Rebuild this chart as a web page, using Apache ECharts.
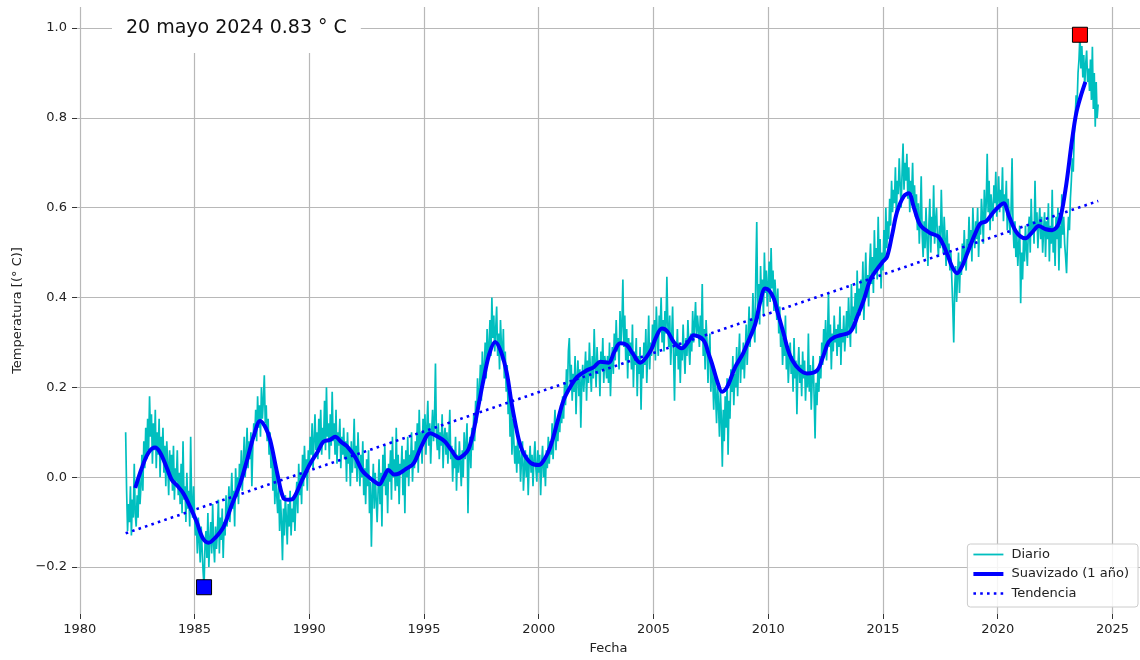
<!DOCTYPE html>
<html><head><meta charset="utf-8">
<script src="https://cdn.jsdelivr.net/npm/echarts@6/dist/echarts.min.js"></script>
<style>html,body{margin:0;padding:0;background:#fff}#chart{width:1140px;height:660px}</style>
</head><body><div id="chart"></div>
<script>
// ---- data ----
const dailyStartYear = 1982;
const dailyStepsPerYear = 24; // semi-monthly readings
const dailyTemps = [
  0.10,-0.03,-0.12,-0.06,-0.10,-0.02,-0.13,-0.05,-0.09,0.03,-0.08,-0.11,-0.04,-0.09,0.01,-0.06,-0.02,0.05,-0.03,0.08,0.02,0.11,0.04,0.13,
  0.06,0.18,0.09,0.14,0.03,0.12,0.06,0.15,0.02,0.10,0.05,0.13,0.00,0.09,0.04,0.11,0.01,0.07,-0.02,0.08,0.03,-0.04,0.06,0.00,
  0.05,-0.03,0.07,-0.05,0.02,-0.01,0.06,-0.04,0.01,-0.06,0.03,-0.08,0.08,-0.05,-0.02,-0.10,0.01,-0.07,-0.03,-0.11,0.09,-0.06,-0.09,-0.02,
  -0.08,-0.13,-0.10,-0.17,-0.09,-0.14,-0.19,-0.11,-0.16,-0.21,-0.245,-0.15,-0.12,-0.18,-0.08,-0.20,-0.14,-0.10,-0.17,-0.06,-0.15,-0.19,-0.11,-0.16,
  -0.12,-0.05,-0.17,-0.09,-0.14,-0.07,-0.18,-0.10,-0.13,-0.04,-0.11,-0.08,-0.02,-0.10,-0.05,0.01,-0.07,-0.03,-0.11,0.02,-0.04,0.00,-0.06,0.03,
  -0.01,0.06,-0.03,0.03,0.09,0.00,0.05,0.11,0.02,0.08,0.04,0.10,-0.02,0.07,0.12,0.09,0.15,0.08,0.18,0.11,0.16,0.09,0.20,0.13,
  0.17,0.227,0.12,0.16,0.08,0.13,0.05,0.10,0.02,0.07,-0.03,0.04,-0.06,0.01,-0.04,-0.08,-0.02,-0.12,-0.05,-0.10,-0.185,-0.07,-0.13,-0.04,
  -0.09,-0.15,-0.06,-0.11,-0.03,-0.13,-0.07,-0.10,-0.04,-0.12,-0.05,-0.01,-0.08,0.03,-0.04,0.01,-0.06,0.05,-0.02,0.07,0.00,0.04,-0.03,0.06,
  0.03,0.09,0.05,0.12,0.02,0.08,0.14,0.06,0.10,0.04,0.13,0.07,0.15,0.05,0.11,0.08,0.17,0.06,0.20,0.09,0.12,0.04,0.14,0.07,
  0.19,0.08,0.12,0.05,0.15,0.03,0.10,0.07,0.13,0.02,0.09,0.05,0.11,0.04,0.08,-0.01,0.10,0.03,0.06,-0.02,0.08,0.01,0.05,0.13,
  0.02,0.07,-0.01,0.10,0.03,-0.02,0.05,0.00,0.08,-0.04,0.02,-0.06,0.04,-0.02,0.06,-0.08,-0.01,-0.155,-0.04,0.03,-0.07,0.01,-0.05,-0.10,
  -0.03,0.04,-0.06,0.01,-0.11,0.05,-0.02,0.07,-0.04,0.02,-0.08,0.03,-0.01,0.06,-0.05,0.09,0.00,0.04,-0.03,0.11,-0.02,0.05,-0.06,0.03,
  0.01,0.07,-0.04,0.04,-0.08,0.06,0.00,0.09,-0.02,0.05,0.03,0.10,-0.01,0.06,0.02,0.08,0.04,0.12,0.01,0.15,0.06,0.10,0.03,0.13,
  0.08,0.14,0.05,0.11,0.17,0.07,0.12,0.03,0.10,0.15,0.08,0.13,0.253,0.09,0.06,0.12,0.04,0.10,0.07,0.14,0.02,0.09,0.11,0.05,
  0.10,0.03,0.08,0.15,0.04,0.07,-0.01,0.06,0.02,0.09,-0.03,0.05,0.01,0.08,0.03,-0.02,0.06,0.00,0.10,0.04,0.07,0.12,-0.08,0.05,
  0.09,0.02,0.11,0.06,0.14,0.08,0.17,0.12,0.22,0.15,0.19,0.25,0.17,0.28,0.21,0.24,0.30,0.22,0.33,0.26,0.29,0.35,0.27,0.40,
  0.31,0.36,0.28,0.33,0.38,0.27,0.32,0.24,0.35,0.29,0.26,0.33,0.22,0.28,0.19,0.25,0.14,0.21,0.09,0.16,0.05,0.13,0.08,0.03,
  0.07,0.01,0.09,0.03,0.06,-0.01,0.04,0.08,-0.03,0.02,0.06,0.00,0.05,-0.04,0.03,0.07,0.01,0.05,-0.02,0.04,0.08,0.02,-0.01,0.06,
  0.01,0.05,-0.04,0.03,0.07,0.00,0.04,-0.02,0.06,0.02,0.09,0.03,0.08,0.05,0.12,0.04,0.10,0.15,0.06,0.11,0.08,0.14,0.10,0.16,
  0.12,0.18,0.13,0.21,0.16,0.24,0.19,0.28,0.31,0.20,0.25,0.17,0.23,0.19,0.27,0.14,0.22,0.26,0.18,0.24,0.11,0.21,0.25,0.19,
  0.23,0.28,0.17,0.26,0.21,0.30,0.24,0.19,0.27,0.22,0.33,0.25,0.20,0.29,0.23,0.26,0.18,0.28,0.24,0.31,0.21,0.27,0.25,0.22,
  0.27,0.21,0.30,0.18,0.25,0.29,0.23,0.32,0.26,0.35,0.28,0.31,0.24,0.37,0.30,0.34,0.44,0.29,0.36,0.26,0.33,0.22,0.31,0.27,
  0.30,0.24,0.34,0.20,0.28,0.25,0.31,0.18,0.27,0.23,0.29,0.15,0.26,0.22,0.30,0.25,0.33,0.21,0.28,0.36,0.24,0.30,0.27,0.34,
  0.29,0.35,0.26,0.38,0.31,0.27,0.36,0.33,0.40,0.30,0.35,0.28,0.37,0.32,0.446,0.34,0.29,0.36,0.25,0.31,0.38,0.27,0.17,0.30,
  0.27,0.33,0.24,0.30,0.21,0.29,0.26,0.34,0.28,0.23,0.31,0.27,0.35,0.29,0.25,0.32,0.28,0.37,0.30,0.34,0.39,0.31,0.36,0.33,
  0.29,0.36,0.31,0.43,0.27,0.33,0.24,0.35,0.30,0.21,0.28,0.32,0.19,0.26,0.22,0.15,0.24,0.18,0.12,0.21,0.16,0.09,0.19,0.13,
  0.023,0.15,0.08,0.18,0.11,0.22,0.05,0.17,0.13,0.24,0.19,0.27,0.16,0.23,0.20,0.29,0.18,0.26,0.32,0.21,0.27,0.24,0.30,0.22,
  0.28,0.34,0.25,0.31,0.38,0.29,0.35,0.32,0.41,0.33,0.30,0.45,0.568,0.37,0.43,0.34,0.47,0.39,0.44,0.36,0.50,0.41,0.46,0.38,
  0.43,0.48,0.39,0.51,0.42,0.46,0.37,0.44,0.40,0.35,0.42,0.32,0.38,0.29,0.34,0.25,0.31,0.27,0.36,0.24,0.29,0.21,0.26,0.30,
  0.23,0.27,0.19,0.31,0.22,0.26,0.14,0.24,0.29,0.21,0.25,0.18,0.28,0.22,0.26,0.17,0.23,0.20,0.32,0.19,0.25,0.15,0.22,0.27,
  0.18,0.086,0.21,0.16,0.24,0.19,0.27,0.22,0.30,0.25,0.33,0.28,0.35,0.26,0.31,0.41,0.29,0.34,0.24,0.32,0.28,0.36,0.30,0.33,
  0.27,0.34,0.29,0.38,0.25,0.33,0.30,0.36,0.28,0.32,0.37,0.31,0.40,0.34,0.29,0.43,0.33,0.38,0.35,0.41,0.32,0.46,0.37,0.42,
  0.36,0.44,0.39,0.48,0.35,0.42,0.50,0.40,0.45,0.38,0.47,0.52,0.43,0.49,0.41,0.55,0.46,0.51,0.44,0.58,0.47,0.53,0.42,0.50,
  0.46,0.55,0.48,0.60,0.51,0.57,0.53,0.62,0.56,0.66,0.59,0.64,0.61,0.69,0.58,0.66,0.63,0.71,0.65,0.60,0.68,0.743,0.64,0.70,
  0.66,0.72,0.62,0.69,0.59,0.66,0.63,0.70,0.60,0.65,0.58,0.63,0.55,0.61,0.52,0.58,0.67,0.54,0.49,0.57,0.51,0.60,0.53,0.47,
  0.56,0.62,0.50,0.58,0.54,0.65,0.52,0.57,0.60,0.53,0.49,0.56,0.51,0.64,0.55,0.50,0.58,0.53,0.47,0.55,0.49,0.52,0.46,0.50,
  0.44,0.38,0.30,0.42,0.47,0.39,0.45,0.50,0.41,0.48,0.45,0.52,0.47,0.55,0.49,0.46,0.53,0.50,0.58,0.51,0.55,0.48,0.60,0.54,
  0.51,0.57,0.53,0.60,0.49,0.56,0.54,0.62,0.58,0.52,0.64,0.57,0.61,0.72,0.59,0.66,0.55,0.63,0.60,0.57,0.65,0.61,0.68,0.58,
  0.62,0.67,0.59,0.64,0.61,0.69,0.57,0.63,0.60,0.66,0.55,0.62,0.58,0.54,0.60,0.71,0.56,0.51,0.57,0.49,0.54,0.47,0.52,0.56,
  0.387,0.50,0.44,0.53,0.48,0.56,0.51,0.47,0.55,0.58,0.50,0.62,0.54,0.57,0.52,0.66,0.55,0.59,0.51,0.56,0.60,0.53,0.58,0.50,
  0.55,0.59,0.49,0.57,0.53,0.61,0.48,0.56,0.52,0.64,0.50,0.55,0.47,0.58,0.53,0.60,0.46,0.56,0.51,0.63,0.54,0.58,0.52,0.49,
  0.454,0.53,0.58,0.55,0.62,0.66,0.71,0.68,0.76,0.80,0.85,0.83,0.90,0.93,0.985,0.91,0.96,0.89,0.94,0.87,0.92,0.95,0.88,0.91,
  0.86,0.93,0.84,0.958,0.82,0.90,0.78,0.88,0.80,0.83
];
const smoothYears = [
  1982.42,1982.7,1983.0,1983.28,1983.5,1983.8,1984.0,1984.23,1984.5,1984.81,1985.1,1985.35,1985.61,1985.9,1986.26,1986.6,1986.99,
  1987.3,1987.6,1987.86,1988.1,1988.3,1988.6,1988.88,1989.1,1989.31,1989.7,1990.04,1990.35,1990.62,1990.9,1991.13,1991.4,1991.64,
  1992.0,1992.3,1992.51,1992.8,1993.05,1993.25,1993.45,1993.7,1993.9,1994.2,1994.54,1994.9,1995.27,1995.6,1995.92,1996.2,1996.5,
  1996.75,1996.94,1997.15,1997.31,1997.59,1997.85,1998.1,1998.35,1998.61,1998.8,1998.98,1999.15,1999.34,1999.65,2000.0,2000.25,
  2000.5,2000.8,2001.08,2001.4,2001.67,2002.1,2002.4,2002.68,2003.04,2003.3,2003.55,2003.84,2004.1,2004.42,2004.86,2005.1,2005.37,
  2005.6,2005.9,2006.24,2006.5,2006.75,2007.18,2007.4,2007.55,2007.8,2007.99,2008.2,2008.57,2008.9,2009.15,2009.44,2009.65,2009.87,
  2010.05,2010.24,2010.45,2010.67,2010.85,2011.04,2011.35,2011.69,2012.13,2012.4,2012.63,2012.9,2013.14,2013.58,2013.9,2014.16,
  2014.45,2014.7,2015.0,2015.18,2015.4,2015.61,2015.9,2016.12,2016.35,2016.63,2017.07,2017.43,2017.79,2018.0,2018.23,2018.45,
  2018.67,2019.0,2019.25,2019.5,2019.83,2020.1,2020.26,2020.5,2020.85,2021.21,2021.5,2021.79,2022.1,2022.37,2022.66,2022.95,
  2023.24,2023.42,2023.6,2023.82
];
const smoothTemps = [
  -0.024,0.02,0.055,0.066,0.055,0.02,-0.005,-0.018,-0.035,-0.066,-0.10,-0.135,-0.146,-0.135,-0.111,-0.065,-0.014,
  0.04,0.095,0.125,0.11,0.082,0.01,-0.047,-0.05,-0.047,-0.005,0.030,0.055,0.079,0.083,0.090,0.078,0.069,
  0.045,0.015,0.004,-0.008,-0.016,0.0,0.016,0.006,0.008,0.018,0.030,0.07,0.098,0.09,0.079,0.06,0.042,
  0.05,0.062,0.10,0.142,0.216,0.275,0.301,0.28,0.231,0.17,0.12,0.08,0.053,0.032,0.027,0.04,
  0.067,0.12,0.171,0.203,0.223,0.238,0.245,0.257,0.255,0.28,0.298,0.294,0.275,0.255,0.280,0.31,0.331,
  0.325,0.30,0.287,0.30,0.316,0.305,0.275,0.253,0.21,0.190,0.20,0.246,0.275,0.305,0.342,0.39,0.420,
  0.415,0.398,0.36,0.320,0.285,0.261,0.24,0.231,0.238,0.27,0.301,0.312,0.316,0.324,0.36,0.394,
  0.44,0.46,0.48,0.491,0.54,0.59,0.625,0.632,0.60,0.561,0.543,0.535,0.498,0.47,0.454,0.47,
  0.498,0.54,0.565,0.57,0.591,0.605,0.610,0.58,0.543,0.532,0.545,0.559,0.552,0.550,0.565,0.639,
  0.751,0.81,0.845,0.880
];
const trendYears = [1982.0, 2024.38];
const trendTemps = [-0.125, 0.615];
const xTicks = [1980, 1985, 1990, 1995, 2000, 2005, 2010, 2015, 2020, 2025];
const yTicks = [-0.2, 0.0, 0.2, 0.4, 0.6, 0.8, 1.0];
const titleText = '20 mayo 2024 0.83 ° C';
const seriesNames = ['Diario', 'Suavizado (1 año)', 'Tendencia'];

// ---- build series data ----
const dailyData = dailyTemps.map((v, i) => [dailyStartYear + i / dailyStepsPerYear, v]);
const smoothData = smoothYears.map((y, i) => [y, smoothTemps[i]]);
const trendData = trendYears.map((y, i) => [y, trendTemps[i]]);
let iMin = 0, iMax = 0;
dailyTemps.forEach((v, i) => { if (v < dailyTemps[iMin]) iMin = i; if (v > dailyTemps[iMax]) iMax = i; });

const FONT = 'DejaVu Sans';
const hiddenSymbol = {color: 'rgba(0,0,0,0)', borderWidth: 0, opacity: 0};
const chart = echarts.init(document.getElementById('chart'), null, {renderer: 'canvas'});
chart.setOption({
  animation: false,
  backgroundColor: '#ffffff',
  textStyle: {fontFamily: FONT},
  title: {
    text: titleText, left: 112, top: 0, padding: [19, 14, 15, 14],
    backgroundColor: '#ffffff',
    textStyle: {fontSize: 19, fontWeight: 'normal', color: '#111', fontFamily: FONT}
  },
  grid: {left: 77, right: 0, top: 7, bottom: 46, containLabel: false},
  legend: {
    orient: 'vertical', right: 2, bottom: 53,
    itemWidth: 30, itemHeight: 14, itemGap: 6.5,
    padding: [4, 9, 7, 4],
    backgroundColor: 'rgba(255,255,255,0.85)', borderColor: '#cccccc', borderWidth: 1, borderRadius: 3,
    textStyle: {fontSize: 13, color: '#222', fontFamily: FONT, padding: [0, 0, 0, 3]},
    data: [
      {name: seriesNames[0], itemStyle: hiddenSymbol, lineStyle: {width: 1.8}},
      {name: seriesNames[1], itemStyle: hiddenSymbol, lineStyle: {width: 4}},
      {name: seriesNames[2], itemStyle: hiddenSymbol, lineStyle: {width: 2.6}}
    ]
  },
  xAxis: {
    type: 'value', min: 1979.88, max: 2026.2,
    axisLine: {show: false, onZero: false},
    axisTick: {show: true, customValues: xTicks, length: 5, lineStyle: {color: '#333', width: 1}},
    axisLabel: {customValues: xTicks, fontSize: 13, color: '#222', margin: 9, fontFamily: FONT,
      formatter: v => String(Math.round(v))},
    splitLine: {show: true, lineStyle: {color: '#b8b8b8', width: 1.2}},
    name: 'Fecha', nameLocation: 'middle', nameGap: 28,
    nameTextStyle: {fontSize: 13, color: '#222', fontFamily: FONT}
  },
  yAxis: {
    type: 'value', min: -0.3046, max: 1.0468,
    axisLine: {show: false, onZero: false},
    axisTick: {show: true, customValues: yTicks, length: 5, lineStyle: {color: '#333', width: 1}},
    axisLabel: {customValues: yTicks, fontSize: 13, color: '#222', margin: 10, fontFamily: FONT,
      formatter: v => (v < -1e-9 ? '\u2212' : '') + Math.abs(v).toFixed(1)},
    splitLine: {show: true, lineStyle: {color: '#b8b8b8', width: 1.2}},
    name: 'Temperatura [(° C)]', nameLocation: 'middle', nameGap: 52, nameRotate: 90,
    nameTextStyle: {fontSize: 13, color: '#222', fontFamily: FONT}
  },
  series: [
    {name: seriesNames[0], type: 'line', data: dailyData, symbol: 'none', showSymbol: false, z: 2,
      lineStyle: {color: '#00BFBF', width: 1.7}, itemStyle: {color: '#00BFBF'}},
    {name: seriesNames[2], type: 'line', data: trendData, symbol: 'none', showSymbol: false, z: 3,
      lineStyle: {color: '#0000FF', width: 2.6, type: [2.6, 4.2]}, itemStyle: {color: '#0000FF'}},
    {name: seriesNames[1], type: 'line', data: smoothData, symbol: 'none', showSymbol: false, smooth: 0.35, z: 4,
      lineStyle: {color: '#0000FF', width: 4}, itemStyle: {color: '#0000FF'}},
    {name: 'min', type: 'scatter', symbol: 'rect', symbolSize: 15, z: 6,
      data: [dailyData[iMin]], itemStyle: {color: '#0000FF', borderColor: '#000', borderWidth: 1, opacity: 1}},
    {name: 'max', type: 'scatter', symbol: 'rect', symbolSize: 15, z: 6,
      data: [dailyData[iMax]], itemStyle: {color: '#FF0000', borderColor: '#000', borderWidth: 1, opacity: 1}}
  ]
});
</script>
</body></html>
